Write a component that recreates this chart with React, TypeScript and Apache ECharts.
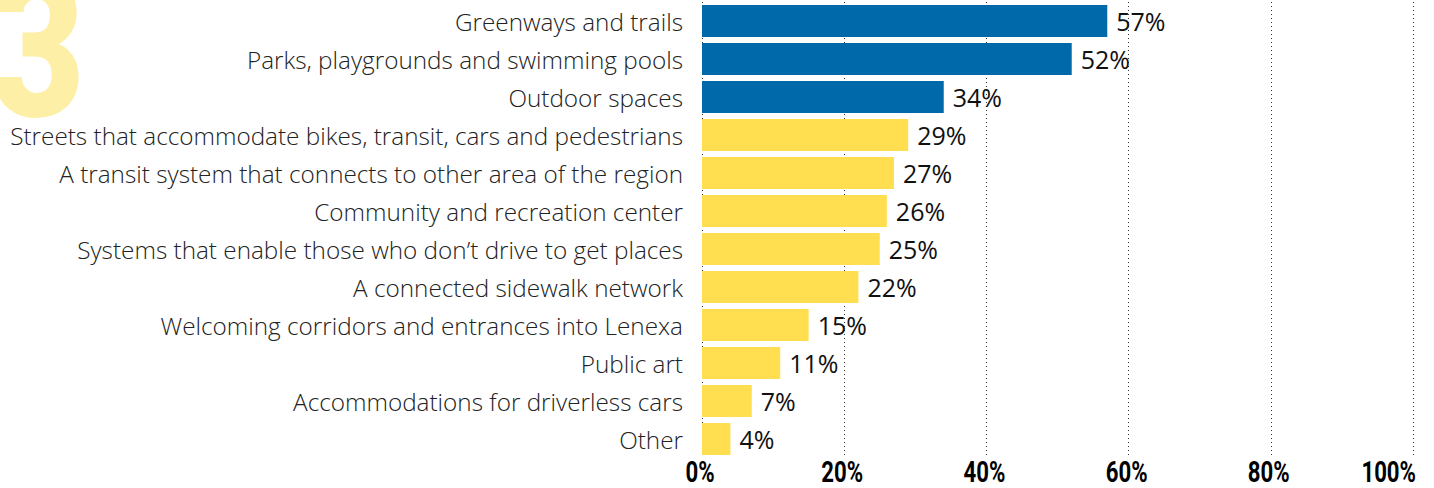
import React, { useEffect, useRef } from "react";
import * as echarts from "echarts";

const categories = [
  "Greenways and trails",
  "Parks, playgrounds and swimming pools",
  "Outdoor spaces",
  "Streets that accommodate bikes, transit, cars and pedestrians",
  "A transit system that connects to other area of the region",
  "Community and recreation center",
  "Systems that enable those who don\u2019t drive to get places",
  "A connected sidewalk network",
  "Welcoming corridors and entrances into Lenexa",
  "Public art",
  "Accommodations for driverless cars",
  "Other",
];
const values = [57, 52, 34, 29, 27, 26, 25, 22, 15, 11, 7, 4];
const highlighted = [true, true, true, false, false, false, false, false, false, false, false, false];
const xTicks = [0, 20, 40, 60, 80, 100];
const bigNumber = "3";

const BLUE = "#0069A9";
const YELLOW = "#FFDF50";
const LABEL_FONT = "'Open Sans', Lato, 'Noto Sans', sans-serif";
const BOLD_FONT = "Roboto, 'Noto Sans', sans-serif";

export default function App() {
  const ref = useRef<HTMLDivElement>(null);
  useEffect(() => {
    if (!ref.current) return;
    const chart = echarts.init(ref.current, null, { renderer: "svg" });
    chart.setOption({
      animation: false,
      backgroundColor: "#fff",
      grid: {
        left: 702,
        right: 21,
        top: 2,
        bottom: 30,
        containLabel: false,
        outerBoundsMode: "none",
      },
      xAxis: {
        type: "value",
        min: 0,
        max: 100,
        interval: 20,
        axisLine: { show: false },
        axisTick: { show: false },
        splitLine: { show: true, lineStyle: { type: [1, 3], color: "#333", width: 1 } },
        axisLabel: { show: false },
      },
      yAxis: {
        type: "category",
        data: categories,
        inverse: true,
        axisLine: { show: false },
        axisTick: { show: false },
        axisLabel: {
          margin: 19,
          color: "#222",
          fontFamily: LABEL_FONT,
          fontWeight: 300,
          fontSize: 24.3,
        },
      },
      series: [
        {
          type: "bar",
          barCategoryGap: "16%",
          data: values.map((v, i) => ({
            value: v,
            itemStyle: { color: highlighted[i] ? BLUE : YELLOW },
          })),
          label: {
            show: true,
            position: "right",
            distance: 9,
            formatter: "{c}%",
            color: "#111",
            fontFamily: LABEL_FONT,
            fontWeight: 400,
            fontSize: 25,
          },
        },
      ],
    });

    const last = xTicks.length - 1;
    const tickLabels = xTicks.map((v, i) => {
      const px = chart.convertToPixel({ xAxisIndex: 0 }, v) as number;
      return {
        type: "text",
        x: i === last ? px + 3 : px - 2,
        y: 471.5,
        scaleX: 0.74,
        style: {
          text: `${v}%`,
          fill: "#000",
          font: `bold 30px ${BOLD_FONT}`,
          textAlign: i === last ? "right" : "center",
          textVerticalAlign: "middle",
        },
      };
    });

    chart.setOption({
      graphic: [
        {
          type: "text",
          x: 38,
          y: 49,
          scaleX: 0.82,
          z: -10,
          silent: true,
          style: {
            text: bigNumber,
            fill: "#FEEFA6",
            font: `900 197px ${BOLD_FONT}`,
            textAlign: "center",
            textVerticalAlign: "middle",
          },
        },
        ...tickLabels,
      ],
    });
    return () => chart.dispose();
  }, []);
  return (
    <div
      ref={ref}
      style={{ position: "fixed", left: 0, top: 0, width: 1434, height: 488 }}
    />
  );
}
